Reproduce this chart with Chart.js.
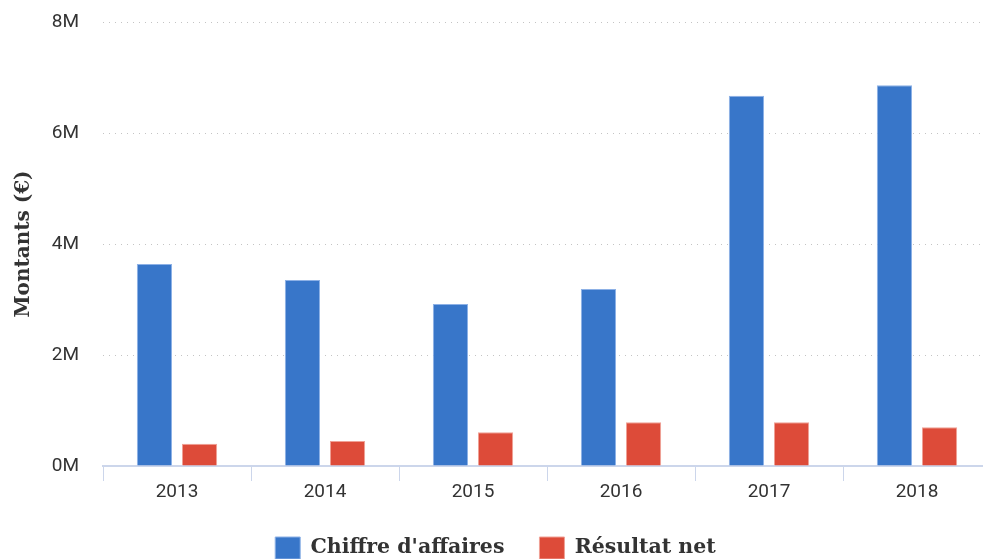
<!DOCTYPE html>
<html lang="fr">
<head>
<meta charset="utf-8">
<title>Chiffre d'affaires et résultat net</title>
<script src="https://cdn.jsdelivr.net/npm/chart.js@4.4.1/dist/chart.umd.min.js"></script>
<style>
  html, body { margin: 0; padding: 0; background: #fff; overflow: hidden; }
  #wrap { width: 991px; height: 559px; overflow: hidden; }
</style>
</head>
<body>
<div id="wrap"><canvas id="chart" width="991" height="569"></canvas></div>
<script>
const annees = ["2013", "2014", "2015", "2016", "2017", "2018"];
const chiffreAffaires = [3640000, 3350000, 2920000, 3190000, 6670000, 6860000];
const resultatNet = [400000, 450000, 610000, 790000, 790000, 700000];
const yTicks = [0, 2000000, 4000000, 6000000, 8000000];

const ctx = document.getElementById("chart").getContext("2d");
const chart = new Chart(ctx, {
  type: "bar",
  data: {
    labels: annees,
    datasets: [
      {
        label: "Chiffre d'affaires",
        data: chiffreAffaires,
        backgroundColor: "#3876c9",
        borderColor: "#8db1e6",
        borderWidth: 1,
        categoryPercentage: 0.61,
        barPercentage: 0.78,
      },
      {
        label: "Résultat net",
        data: resultatNet,
        backgroundColor: "#dd4b39",
        borderColor: "#f0a196",
        borderWidth: 1,
        categoryPercentage: 0.61,
        barPercentage: 0.78,
      },
    ],
  },
  options: {
    responsive: false,
    animation: false,
    layout: { padding: { top: 22, left: 0, right: 0, bottom: 0 } },
    plugins: {
      tooltip: { enabled: false },
      legend: {
        position: "bottom",
        labels: {
          boxWidth: 25,
          boxHeight: 22,
          padding: 35,
          color: "#333",
          font: { family: "DejaVu Serif", weight: "bold", size: 20.5 },
        },
      },
    },
    scales: {
      x: {
        grid: {
          drawOnChartArea: false,
          drawTicks: true,
          tickLength: 15,
          color: "#ccd6eb",
          lineWidth: 1,
        },
        border: { color: "#ccd6eb", width: 2 },
        ticks: {
          color: "#333",
          padding: 0,
          font: { family: "Roboto", size: 19 },
        },
        afterFit: (s) => { s.height = 36; },
      },
      y: {
        min: 0,
        max: 8000000,
        afterBuildTicks: (s) => { s.ticks = yTicks.map((v) => ({ value: v })); },
        grid: {
          drawTicks: false,
          color: "#c4c4c4",
          lineWidth: 1,
        },
        border: { display: false, dash: [1, 5] },
        ticks: {
          color: "#333",
          padding: 24,
          font: { family: "Roboto", size: 19 },
          callback: (v) => v / 1000000 + "M",
        },
        title: {
          display: true,
          text: "Montants (€)",
          color: "#333",
          padding: { top: 12, bottom: 0 },
          font: { family: "DejaVu Serif", weight: "bold", size: 20 },
        },
        afterFit: (s) => {
          s.width = 103;
          s.paddingTop = 0;
          s.paddingBottom = 0;
        },
      },
    },
  },
});
</script>
</body>
</html>
